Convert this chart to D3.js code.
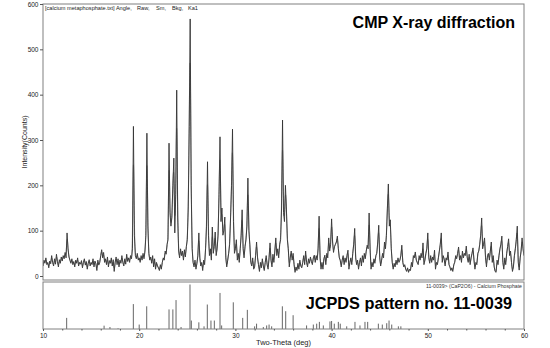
<!DOCTYPE html>
<html>
<head>
<meta charset="utf-8">
<title>CMP X-ray diffraction</title>
<style>
  body { margin: 0; background: #fff; }
  svg { font-family: "Liberation Sans", Arial, sans-serif; display: block; }
  .frame { fill: none; stroke: #808080; stroke-width: 1; }
  .axis path { display: none; }
  .axis line { stroke: #555; }
  .axis text { font-size: 6.5px; fill: #222; }
  .raw { fill: none; stroke: #333; stroke-width: 0.9px; }
  .sm { fill: none; stroke: #8a8a8a; stroke-width: 0.9px; }
  .ref { stroke: #666; stroke-width: 1px; }
</style>
</head>
<body>
<svg width="550" height="348"></svg>
<script src="https://d3js.org/d3.v7.min.js"></script>
<script>

// measured scan: 2-theta from 10 to 60 deg, 0.1 deg steps (one row per degree)
var angleStart = 10, angleStep = 0.1;
var counts = [
  22,35,28,40,25,30,18,33,27,45,      // 10
  30,22,38,26,48,32,20,36,28,42,      // 11
  33,45,38,52,40,95,60,42,35,28,      // 12
  38,25,32,20,35,28,40,22,30,26,      // 13
  34,18,30,38,24,32,15,28,36,22,      // 14
  30,25,38,20,33,27,12,35,24,30,      // 15
  45,58,40,52,30,38,25,42,20,34,      // 16
  28,40,22,36,10,30,42,25,38,20,      // 17
  35,28,45,30,22,38,26,48,32,40,      // 18
  30,45,38,60,330,90,45,38,50,35,     // 19
  40,30,45,35,50,38,55,90,315,110,    // 20
  50,35,42,28,45,20,38,15,30,22,      // 21
  18,12,25,15,30,40,35,55,48,70,      // 22
  80,293,140,110,130,200,260,95,180,410, // 23
  130,55,40,60,45,55,35,58,42,65,     // 24
  80,150,330,567,200,60,30,20,35,15,  // 25
  28,45,95,40,22,30,12,35,25,60,      // 26
  110,252,90,45,60,35,108,50,65,97,   // 27
  45,60,90,180,307,120,150,90,100,130, // 28
  40,20,35,50,70,130,200,324,120,50,  // 29
  60,80,35,50,30,60,90,146,60,40,     // 30
  65,80,110,216,100,70,30,22,40,15,   // 31
  20,45,75,40,25,10,30,18,38,22,      // 32
  12,30,45,25,15,40,73,35,20,48,      // 33
  30,55,84,45,60,40,70,80,150,344,    // 34
  140,120,200,150,80,60,20,40,55,35,  // 35
  50,25,8,20,12,28,15,35,22,18,       // 36
  30,45,25,55,30,20,38,28,42,32,      // 37
  25,40,46,30,45,35,60,132,40,15,     // 38
  30,15,38,46,25,50,40,84,55,70,      // 39
  126,75,52,65,70,75,88,60,40,35,     // 40
  20,35,45,25,40,30,45,57,15,30,      // 41
  40,25,50,70,105,40,25,35,15,30,     // 42
  40,22,45,30,50,38,55,68,60,139,     // 43
  60,15,30,20,38,28,45,50,75,112,     // 44
  40,22,35,50,40,75,60,90,150,203,    // 45
  110,124,60,30,15,28,20,35,25,40,    // 46
  30,35,45,68,30,20,25,15,10,18,      // 47
  8,15,12,30,20,45,40,53,35,30,       // 48
  25,45,35,50,40,73,25,35,50,60,      // 49
  95,40,28,45,30,42,35,57,15,30,      // 50
  25,40,55,70,95,30,45,38,22,40,      // 51
  35,53,25,20,12,18,10,25,30,45,      // 52
  38,50,64,35,45,30,55,40,50,45,      // 53
  66,40,30,48,25,40,50,62,35,15,      // 54
  30,25,50,55,70,90,128,60,70,84,     // 55
  40,20,45,50,35,55,75,30,45,20,      // 56
  10,8,35,25,45,60,70,88,30,15,       // 57
  40,25,50,65,82,45,55,30,10,20,      // 58
  45,60,80,110,30,13,40,55,84,60,     // 59
  45                                  // 60
];

// JCPDS 11-0039 reference lines
var refAngle = [12.46, 16.35, 16.96, 17.8, 19.39, 20.0, 20.78, 23.1, 23.5, 23.83,
  24.35, 25.28, 25.42, 26.2, 26.74, 27.08, 27.46, 27.81, 28.4, 28.57,
  29.78, 30.76, 31.24, 32.0, 32.2, 32.9, 33.25, 33.5, 33.77, 34.88,
  35.23, 36.0, 37.4, 38.1, 38.45, 38.73, 39.14, 39.83, 40.0, 40.28,
  40.7, 40.9, 41.57, 42.43, 42.95, 43.47, 43.75, 44.86, 45.27, 45.73,
  45.97, 46.25, 46.94, 47.2];
var refIntensity = [25, 7.5, 4.5, 1.5, 56, 10, 51, 44, 44, 65,
  4.5, 100, 19, 15, 6, 55, 19, 19, 81, 8,
  60, 25, 43, 6, 12, 4.5, 8, 10, 6, 51,
  40, 31, 8, 10, 12, 16, 8, 17, 18, 12,
  16, 12, 6, 16, 8, 16, 16, 12, 10, 13,
  19, 10, 6, 6];

var yTicks = [0, 100, 200, 300, 400, 500, 600];
var xTicks = [10, 20, 30, 40, 50, 60];
var xMinorTicks = [12, 14, 16, 18, 22, 24, 26, 28, 32, 34, 36, 38, 42, 44, 46, 48, 52, 54, 56, 58];
var headerWords = ["[calcium metaphosphate.txt] Angle,", "Raw,", "Sm,", "Bkg,", "Ka1"];

var svg = d3.select("svg");

var left = 43, right = 524,
    top1 = 4, bottom1 = 280,
    top2 = 282, bottom2 = 329;

var x = d3.scaleLinear().domain([10, 60]).range([left, right]),
    y = d3.scaleLinear().domain([0, 600]).range([276, top1]),
    yRef = d3.scaleLinear().domain([0, 100]).range([bottom2, 284.5]);

var points = counts.map(function(c, i) { return [angleStart + i * angleStep, c]; });

svg.append("clipPath").attr("id", "clip1")
  .append("rect")
    .attr("x", left).attr("y", top1)
    .attr("width", right - left).attr("height", bottom1 - top1);

// upper panel: measured pattern
var g1 = svg.append("g").attr("clip-path", "url(#clip1)");

g1.append("path")
    .datum(points)
    .attr("class", "sm")
    .attr("d", d3.line().curve(d3.curveBasis)
      .x(function(d) { return x(d[0]); })
      .y(function(d) { return y(d[1]); }));

g1.append("path")
    .datum(points)
    .attr("class", "raw")
    .attr("d", d3.line()
      .x(function(d) { return x(d[0]); })
      .y(function(d) { return y(d[1]); }));

svg.append("rect").attr("class", "frame")
    .attr("x", left).attr("y", top1)
    .attr("width", right - left).attr("height", bottom1 - top1);

svg.append("g")
    .attr("class", "axis")
    .attr("transform", "translate(" + left + ",0)")
    .call(d3.axisLeft(y).tickValues(yTicks).tickSize(3).tickPadding(1.5));

svg.append("text")
    .attr("transform", "translate(27," + ((top1 + bottom1) / 2) + ") rotate(-90)")
    .attr("text-anchor", "middle")
    .style("font-size", "7px")
    .attr("fill", "#222")
    .text("Intensity(Counts)");

// header line of the data file, words placed at their columns
var headerX = [45, 137, 156, 172, 188];
svg.append("g").selectAll("text")
  .data(headerWords)
  .enter().append("text")
    .attr("x", function(d, i) { return headerX[i]; })
    .attr("y", 10)
    .style("font-size", "5.6px")
    .attr("fill", "#222")
    .text(function(d) { return d; });

svg.append("text")
    .attr("x", 515).attr("y", 28)
    .attr("text-anchor", "end")
    .style("font-size", "16px")
    .style("font-weight", "bold")
    .text("CMP X-ray diffraction");

// lower panel: reference pattern
svg.append("g").selectAll("line")
  .data(refAngle)
  .enter().append("line")
    .attr("class", "ref")
    .attr("x1", function(d) { return x(d); })
    .attr("x2", function(d) { return x(d); })
    .attr("y1", yRef(0))
    .attr("y2", function(d, i) { return yRef(refIntensity[i]); });

svg.append("rect").attr("class", "frame")
    .attr("x", left).attr("y", top2)
    .attr("width", right - left).attr("height", bottom2 - top2);

svg.append("g")
    .attr("class", "axis")
    .attr("transform", "translate(0," + bottom2 + ")")
    .call(d3.axisBottom(x).tickValues(xTicks).tickSize(2).tickPadding(2));

svg.append("g")
    .attr("class", "axis")
    .attr("transform", "translate(0," + bottom2 + ")")
    .call(d3.axisBottom(x).tickValues(xMinorTicks).tickSize(1.5).tickFormat(""));

svg.append("text")
    .attr("x", (left + right) / 2).attr("y", 345)
    .attr("text-anchor", "middle")
    .style("font-size", "7.5px")
    .attr("fill", "#222")
    .text("Two-Theta (deg)");

svg.append("text")
    .attr("x", 522).attr("y", 288)
    .attr("text-anchor", "end")
    .style("font-size", "5.2px")
    .attr("fill", "#333")
    .text("11-0039> (CaP2O6) - Calcium Phosphate");

svg.append("text")
    .attr("x", 512).attr("y", 309)
    .attr("text-anchor", "end")
    .style("font-size", "16.3px")
    .style("font-weight", "bold")
    .text("JCPDS pattern no. 11-0039");

</script>
</body>
</html>
